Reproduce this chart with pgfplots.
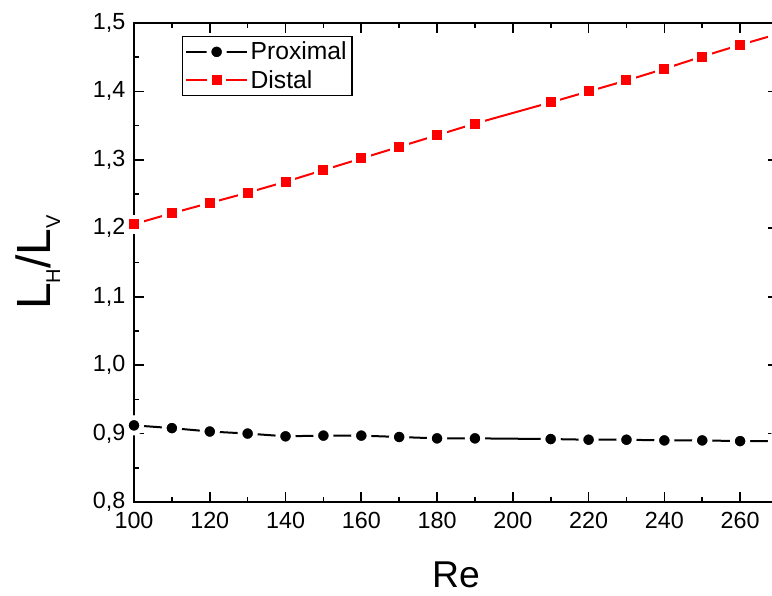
\documentclass[border=0pt]{standalone}
\usepackage{fontspec}
\setmainfont{Liberation Sans}
\usepackage{pgfplots}
\pgfplotsset{compat=1.18}
\begin{document}
\begin{tikzpicture}
\begin{axis}[
  name=ax,
  scale only axis,
  width=483pt, height=359.25pt,
  xmin=100, xmax=270, ymin=0.8, ymax=1.5,
  xtick={100,120,...,260},
  minor x tick num=1,
  ytick={0.8,0.9,1.0,1.1,1.2,1.3,1.4,1.5},
  minor y tick num=1,
  major tick length=7.5pt, minor tick length=4pt,
  every tick/.style={black, line width=1.2pt},
  axis line style={line width=1.6pt},
  tick align=inside,
  axis on top=true,
  /pgf/number format/assume math mode=true,
  yticklabel style={/pgf/number format/.cd, use comma, fixed, precision=1, fixed zerofill, /tikz/.cd, xshift=-3pt},
  xticklabel style={/pgf/number format/.cd, fixed, 1000 sep={}, /tikz/.cd, yshift=-4pt},
  tick label style={font=\fontsize{17.5}{19}\selectfont},
  xlabel={Re},
  xlabel style={at={(axis description cs:0.5,-0.1775)}, anchor=base, font=\fontsize{28}{30}\selectfont},
  ylabel={L\raisebox{-0.4ex}{\fontsize{15}{16}\selectfont H}/L\raisebox{-0.4ex}{\fontsize{15}{16}\selectfont V}},
  ylabel style={at={(axis description cs:-0.1304,0.5)}, anchor=base, rotate=0, font=\fontsize{36}{38}\selectfont},
  legend style={at={(axis description cs:0.0745,0.973)}, anchor=north west, draw=black, line width=1pt,
    font=\fontsize{18.5}{20}\selectfont, inner sep=2pt, row sep=2.5pt},
  legend cell align=left,
  legend image code/.code={\draw[#1, mark repeat=2, mark phase=2] plot coordinates {(0cm,0cm) (0.8cm,0cm) (1.6cm,0cm)};},
]
\addplot[black, line width=1.5pt, mark=*, mark size=5.8pt,
  mark options={fill=black, draw=white, line width=3.5pt}]
  coordinates {
  (100,0.912) (110,0.908) (120,0.903) (130,0.900) (140,0.896) (150,0.897)
  (160,0.897) (170,0.895) (180,0.893) (190,0.893) (210,0.892) (220,0.891)
  (230,0.891) (240,0.890) (250,0.890) (260,0.889) (270,0.889)
  };
\addlegendentry{Proximal}
\addplot[red, line width=1.5pt, mark=square*, mark size=5.5pt,
  mark options={fill=red, draw=white, line width=3.5pt}]
  coordinates {
  (100,1.206) (110,1.222) (120,1.237) (130,1.252) (140,1.268) (150,1.285)
  (160,1.302) (170,1.319) (180,1.336) (190,1.353) (210,1.384) (220,1.400)
  (230,1.416) (240,1.433) (250,1.451) (260,1.468) (270,1.484)
  };
\addlegendentry{Distal}
\end{axis}
\pgfresetboundingbox
\path[use as bounding box] ([xshift=-100.5pt,yshift=-70.5pt]ax.south west) rectangle ([xshift=-4.5pt,yshift=17.25pt]ax.north east);
\end{tikzpicture}
\end{document}
